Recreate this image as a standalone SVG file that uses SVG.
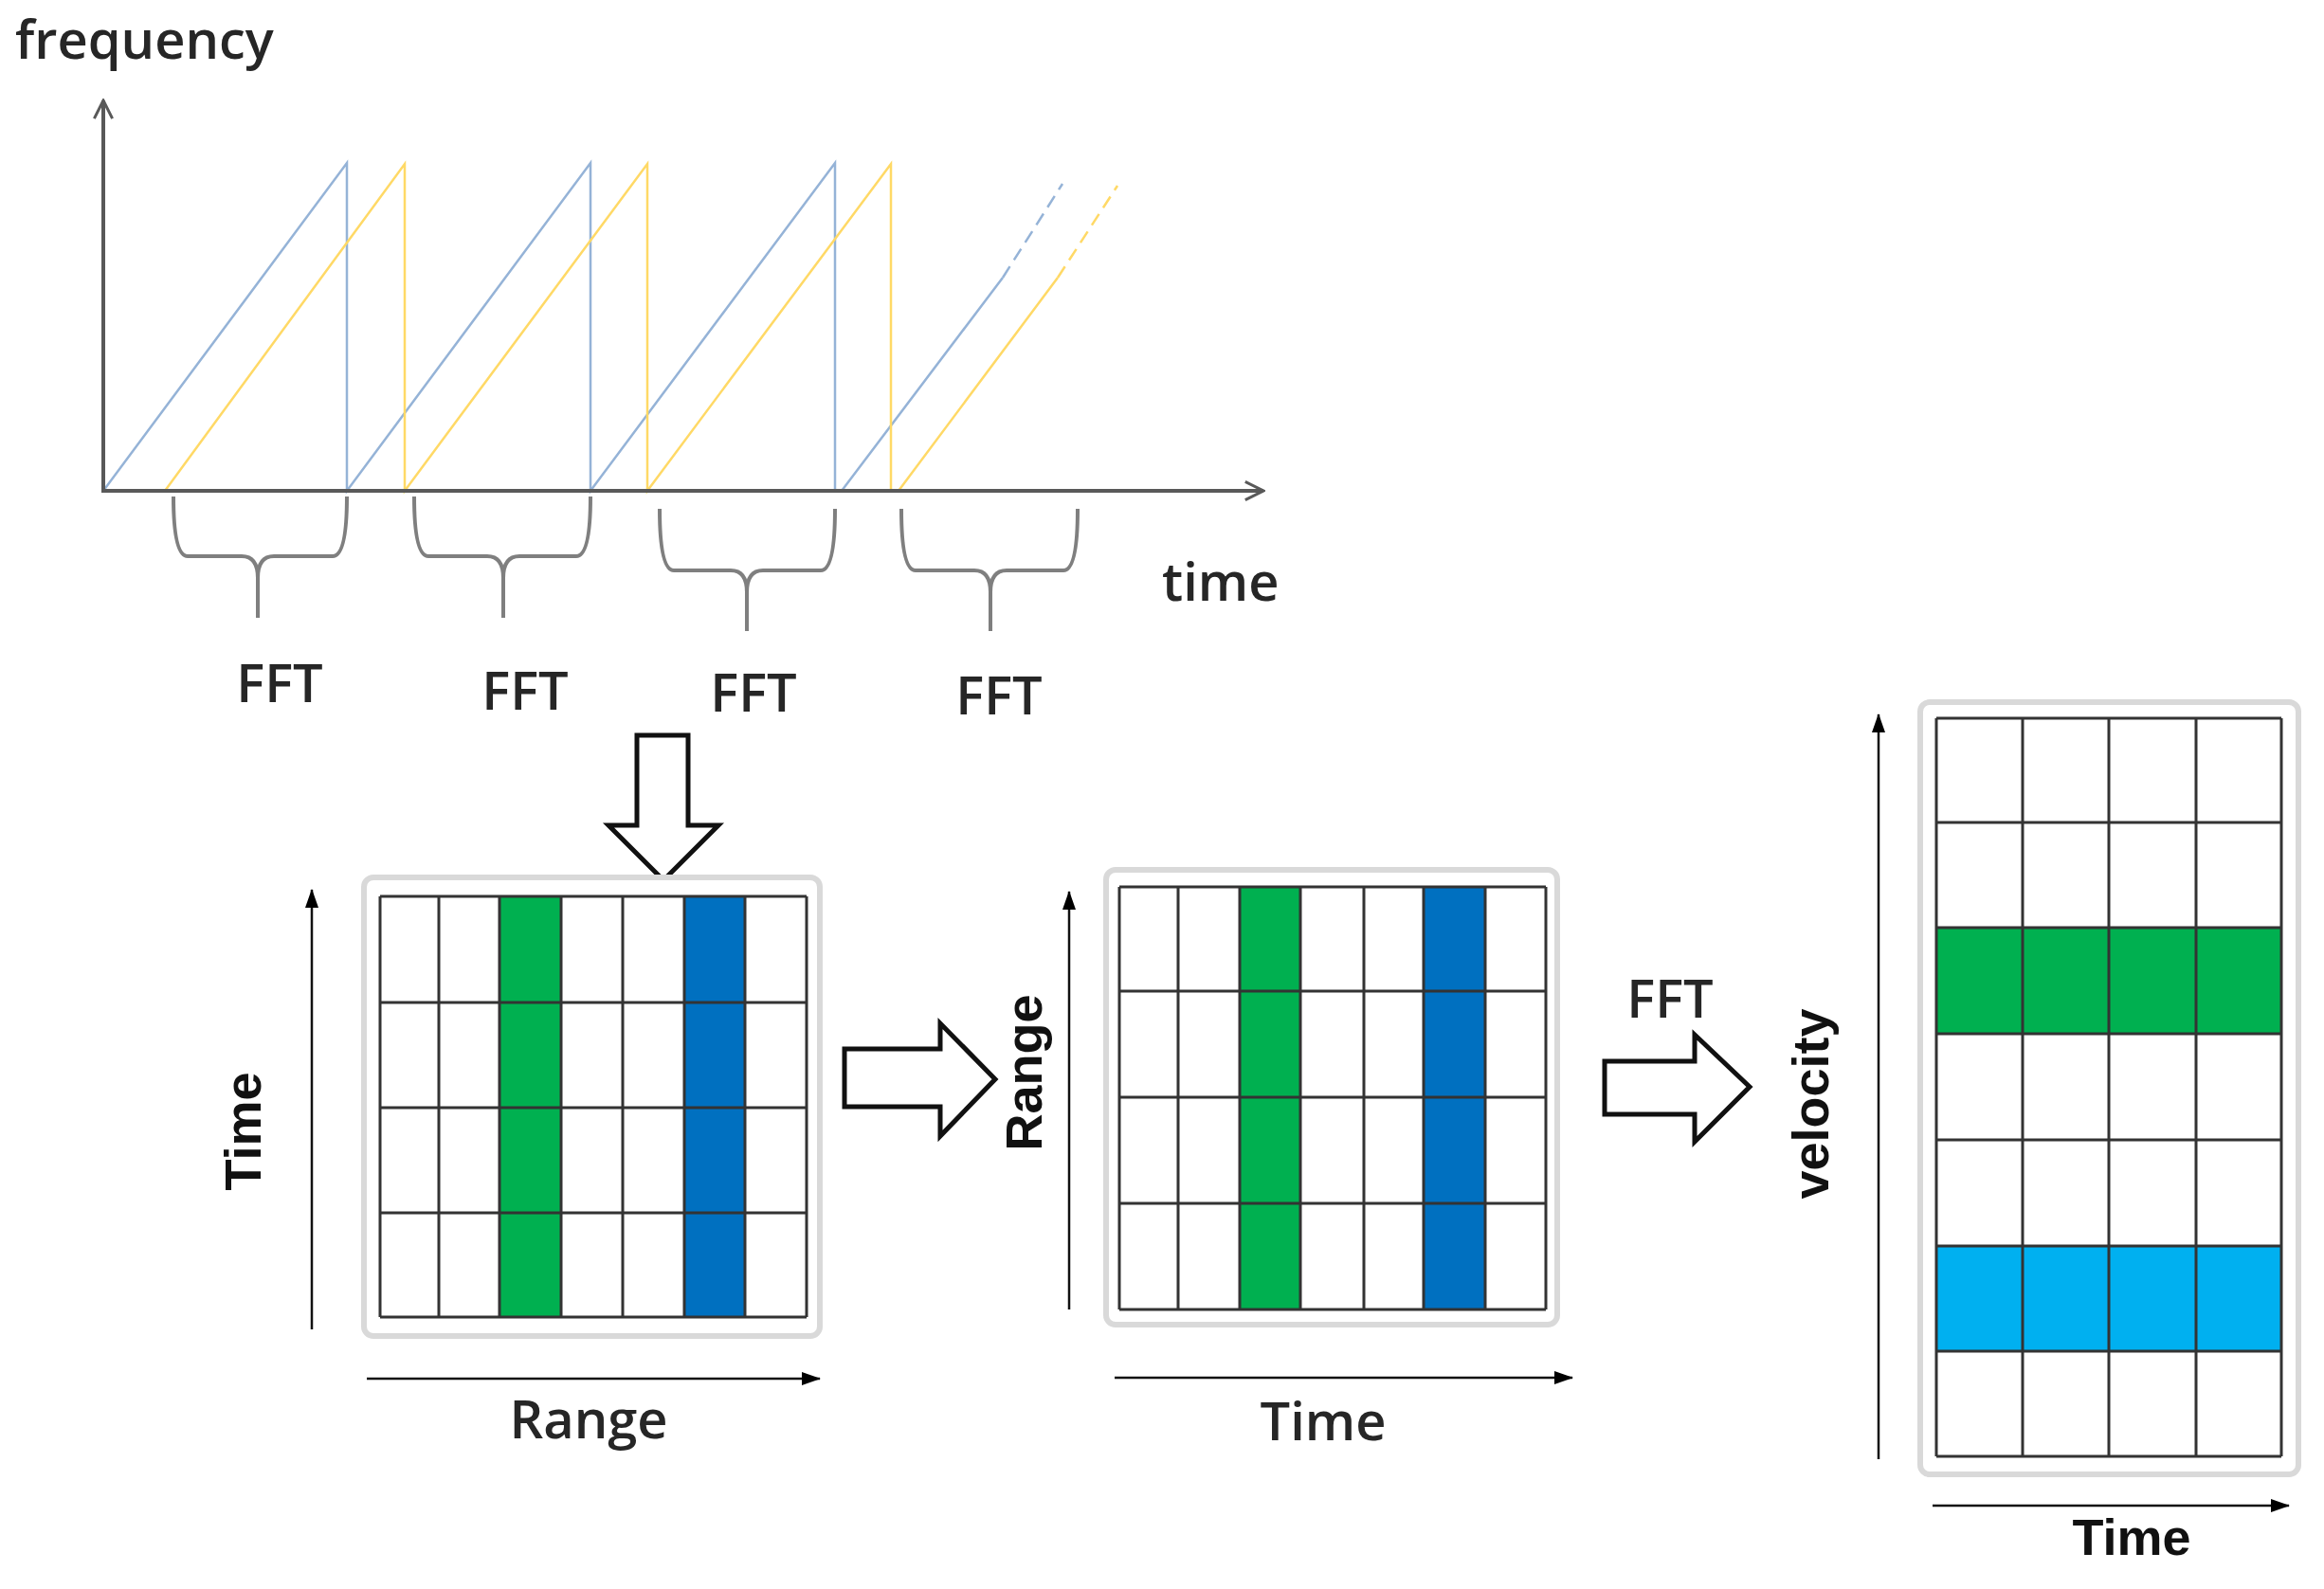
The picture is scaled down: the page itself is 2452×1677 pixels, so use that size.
<svg xmlns="http://www.w3.org/2000/svg" width="2452" height="1677" viewBox="0 0 2452 1677">
<defs>
<marker id="oa" viewBox="0 0 20 20" refX="18" refY="10" markerWidth="24" markerHeight="24" markerUnits="userSpaceOnUse" orient="auto"><path d="M2,2 L18,10 L2,18" fill="none" stroke="#595959" stroke-width="2.5"/></marker>
<marker id="fa" viewBox="0 0 20 20" refX="19" refY="10" markerWidth="20" markerHeight="20" markerUnits="userSpaceOnUse" orient="auto"><path d="M0,3 L20,10 L0,17 Z" fill="#000"/></marker>
</defs>
<style>
.bl{stroke:#95b3d7;stroke-width:2.5;fill:none}
.yl{stroke:#ffd966;stroke-width:2.5;fill:none}
.ax{stroke:#595959;stroke-width:4;fill:none}
.br{stroke:#7f7f7f;stroke-width:4;fill:none}
.cal{font-family:"Open Sans","Liberation Sans",sans-serif;font-size:56px;font-weight:600;fill:#262626}
.ar{font-family:"Liberation Sans",Arial,sans-serif;font-size:54px;font-weight:bold;fill:#111}
.gl{stroke:#333;stroke-width:3;fill:none}
.fr{stroke:#d9d9d9;stroke-width:6;fill:#fff}
.bigar{fill:#fff;stroke:#111;stroke-width:5;stroke-linejoin:miter}
.thin{stroke:#111;stroke-width:2.5;fill:none}
</style>
<rect width="2452" height="1677" fill="#fff"/>

<g id="chart">
<path class="bl" d="M109,518 L366,172 L366,518 L623,172 L623,518 L881,172 L881,518 L888,518 L1058,293"/>
<path class="bl" d="M1058,293 L1121,194" stroke-dasharray="14,8"/>
<path class="yl" d="M174,518 L427,173 L427,518 L683,173 L683,518 L940,173 L940,518 L948,518 L1116,293"/>
<path class="yl" d="M1116,293 L1179,196" stroke-dasharray="14,8"/>
<line class="ax" x1="109" y1="520" x2="109" y2="106" marker-end="url(#oa)"/>
<line class="ax" x1="107" y1="518" x2="1333" y2="518" marker-end="url(#oa)"/>
<text class="cal" x="16" y="62">frequency</text>
<text class="cal" x="1226" y="634">time</text>
</g>

<g id="braces">
<path class="br" d="M183,524 Q183,587 198,587 L255,587 Q272,587 272,610 L272,652 M272,610 Q272,587 289,587 L351,587 Q366,587 366,524"/>
<path class="br" d="M437,524 Q437,587 452,587 L514,587 Q531,587 531,610 L531,652 M531,610 Q531,587 548,587 L608,587 Q623,587 623,524"/>
<path class="br" d="M696,537 Q696,602 711,602 L771,602 Q788,602 788,625 L788,666 M788,625 Q788,602 805,602 L866,602 Q881,602 881,537"/>
<path class="br" d="M951,537 Q951,602 966,602 L1028,602 Q1045,602 1045,625 L1045,666 M1045,625 Q1045,602 1062,602 L1122,602 Q1137,602 1137,537"/>
<text class="cal" x="295" y="741" text-anchor="middle">FFT</text>
<text class="cal" x="554" y="749" text-anchor="middle">FFT</text>
<text class="cal" x="795" y="751" text-anchor="middle">FFT</text>
<text class="cal" x="1054" y="754" text-anchor="middle">FFT</text>
</g>

<g id="arrows">
<path class="bigar" d="M672,776 L726,776 L726,871 L758,871 L700,929 L642,871 L672,871 Z"/>
<path class="bigar" d="M891,1107 L992,1107 L992,1080 L1050,1139 L992,1199 L992,1168 L891,1168 Z"/>
<path class="bigar" d="M1693,1120 L1788,1120 L1788,1092 L1846,1147 L1788,1205 L1788,1176 L1693,1176 Z"/>
<text class="cal" x="1762" y="1074" text-anchor="middle" fill="#1f2d3d">FFT</text>
</g>

<g id="matrix1">
<rect class="fr" x="384" y="926" width="481" height="484" rx="10"/>
<rect x="527" y="946" width="65" height="444" fill="#00b050"/>
<rect x="722" y="946" width="64" height="444" fill="#0070c0"/>
<path class="gl" d="M401,946 V1390 M463,946 V1390 M527,946 V1390 M592,946 V1390 M657,946 V1390 M722,946 V1390 M786,946 V1390 M851,946 V1390 M401,946 H851 M401,1058 H851 M401,1169 H851 M401,1280 H851 M401,1390 H851"/>
<line class="thin" x1="329" y1="1403" x2="329" y2="939" marker-end="url(#fa)"/>
<line class="thin" x1="387" y1="1455" x2="865" y2="1455" marker-end="url(#fa)"/>
<text class="ar" transform="translate(275,1194) rotate(-90)" text-anchor="middle">Time</text>
<text class="cal" x="621" y="1518" text-anchor="middle">Range</text>
</g>

<g id="matrix2">
<rect class="fr" x="1167" y="918" width="476" height="480" rx="10"/>
<rect x="1308" y="936" width="64" height="446" fill="#00b050"/>
<rect x="1502" y="936" width="65" height="446" fill="#0070c0"/>
<path class="gl" d="M1181,936 V1382 M1243,936 V1382 M1308,936 V1382 M1372,936 V1382 M1439,936 V1382 M1502,936 V1382 M1567,936 V1382 M1631,936 V1382 M1181,936 H1631 M1181,1046 H1631 M1181,1158 H1631 M1181,1270 H1631 M1181,1382 H1631"/>
<line class="thin" x1="1128" y1="1382" x2="1128" y2="941" marker-end="url(#fa)"/>
<line class="thin" x1="1176" y1="1454" x2="1659" y2="1454" marker-end="url(#fa)"/>
<text class="ar" transform="translate(1099,1132) rotate(-90)" text-anchor="middle">Range</text>
<text class="cal" x="1396" y="1520" text-anchor="middle">Time</text>
</g>

<g id="matrix3">
<rect class="fr" x="2026" y="741" width="399" height="815" rx="10"/>
<rect x="2043" y="979" width="364" height="112" fill="#00b050"/>
<rect x="2043" y="1315" width="364" height="111" fill="#00b0f0"/>
<path class="gl" d="M2043,758 V1537 M2134,758 V1537 M2225,758 V1537 M2317,758 V1537 M2407,758 V1537 M2043,758 H2407 M2043,868 H2407 M2043,979 H2407 M2043,1091 H2407 M2043,1203 H2407 M2043,1315 H2407 M2043,1426 H2407 M2043,1537 H2407"/>
<line class="thin" x1="1982" y1="1540" x2="1982" y2="754" marker-end="url(#fa)"/>
<line class="thin" x1="2039" y1="1589" x2="2415" y2="1589" marker-end="url(#fa)"/>
<text class="ar" transform="translate(1929,1165) rotate(-90)" text-anchor="middle">velocity</text>
<text class="ar" x="2249" y="1641" text-anchor="middle" font-size="50">Time</text>
</g>
</svg>
